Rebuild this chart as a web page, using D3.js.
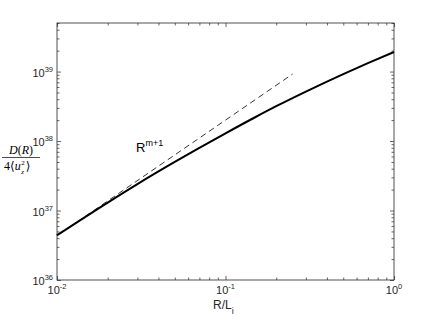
<!DOCTYPE html>
<html><head><meta charset="utf-8">
<script src="https://cdn.jsdelivr.net/npm/d3@7"></script>
<style>
body{margin:0;background:#fff;}
svg{display:block;font-family:"Liberation Sans",Arial,sans-serif;}
</style></head>
<body><svg id="c" width="436" height="321"></svg>
<script>
// data
const solidX = [0.01, 0.02, 0.03, 0.05, 0.07, 0.1, 0.15, 0.2, 0.3, 0.5, 0.7, 1.0];
const solidY = [4.4e36, 1.3e37, 2.4e37, 5.0e37, 7.95e37, 1.29e38, 2.2e38, 3.17e38, 5.15e38, 9.2e38, 1.32e39, 1.91e39];
const dashX = [0.0105, 0.25];
const dashY = [4.7e36, 9.2e38];
const xMajor = [0.01, 0.1, 1];
const xMajorExp = ["-2", "-1", "0"];
const yMajor = [1e36, 1e37, 1e38, 1e39];
const yMajorExp = ["36", "37", "38", "39"];

const svg = d3.select("#c");
const L = 57, R = 394, T = 23, B = 280;
const x = d3.scaleLog().domain([0.01, 1]).range([L, R]);
const y = d3.scaleLog().domain([1e36, 5e39]).range([B, T]);

const xMinor = [];
[0.01, 0.1].forEach(d => { for (let k = 2; k <= 9; k++) xMinor.push(d * k); });
const yMinor = [];
[1e36, 1e37, 1e38, 1e39].forEach(d => { for (let k = 2; k <= 9; k++) { const v = d * k; if (v <= 5e39) yMinor.push(v); } });

const axColor = "#262626";
function styleAxis(g) {
  g.select(".domain").remove();
  g.selectAll("line").attr("stroke", axColor).attr("stroke-width", 0.7);
  g.selectAll("text").remove();
}
const g = svg.append("g");
g.append("g").attr("transform", `translate(0,${B})`).call(d3.axisBottom(x).tickValues(xMajor).tickSize(-4)).call(styleAxis);
g.append("g").attr("transform", `translate(0,${B})`).call(d3.axisBottom(x).tickValues(xMinor).tickSize(-2.5)).call(styleAxis);
g.append("g").attr("transform", `translate(0,${T})`).call(d3.axisTop(x).tickValues(xMajor).tickSize(-4)).call(styleAxis);
g.append("g").attr("transform", `translate(0,${T})`).call(d3.axisTop(x).tickValues(xMinor).tickSize(-2.5)).call(styleAxis);
g.append("g").attr("transform", `translate(${L},0)`).call(d3.axisLeft(y).tickValues(yMajor).tickSize(-4)).call(styleAxis);
g.append("g").attr("transform", `translate(${L},0)`).call(d3.axisLeft(y).tickValues(yMinor).tickSize(-2.5)).call(styleAxis);
g.append("g").attr("transform", `translate(${R},0)`).call(d3.axisRight(y).tickValues(yMajor).tickSize(-4)).call(styleAxis);
g.append("g").attr("transform", `translate(${R},0)`).call(d3.axisRight(y).tickValues(yMinor).tickSize(-2.5)).call(styleAxis);

svg.append("rect").attr("x", L).attr("y", T).attr("width", R - L).attr("height", B - T)
  .attr("fill", "none").attr("stroke", axColor).attr("stroke-width", 0.8);

// tick labels
xMajor.forEach((v, i) => {
  const t = svg.append("text").attr("x", x(v)).attr("y", B + 14).attr("text-anchor", "middle")
    .attr("font-size", 11).attr("fill", axColor);
  t.append("tspan").text("10");
  t.append("tspan").attr("dy", -5).attr("font-size", 7.5).text(xMajorExp[i]);
});
yMajor.forEach((v, i) => {
  const t = svg.append("text").attr("x", L - 4).attr("y", y(v) + 5).attr("text-anchor", "end")
    .attr("font-size", 11).attr("fill", axColor);
  t.append("tspan").text("10");
  t.append("tspan").attr("dy", -5).attr("font-size", 7.5).text(yMajorExp[i]);
});

// lines
const line = d3.line().x(d => x(d[0])).y(d => y(d[1])).curve(d3.curveMonotoneX);
svg.append("path").datum(dashX.map((d, i) => [d, dashY[i]])).attr("d", line)
  .attr("fill", "none").attr("stroke", "#000").attr("stroke-width", 0.8).attr("stroke-dasharray", "6,4");
svg.append("path").datum(solidX.map((d, i) => [d, solidY[i]])).attr("d", line)
  .attr("fill", "none").attr("stroke", "#000").attr("stroke-width", 2);

// annotation
const ann = svg.append("text").attr("x", 136).attr("y", 152).attr("font-size", 13).attr("fill", "#000");
ann.append("tspan").text("R");
ann.append("tspan").attr("dy", -6).attr("font-size", 9).text("m+1");

// x label
const xl = svg.append("text").attr("x", 213).attr("y", 309).attr("font-size", 12).attr("fill", axColor);
xl.append("tspan").text("R/L");
xl.append("tspan").attr("dy", 5).attr("font-size", 9).text("i");

// y label (fraction)
const serif = '"Liberation Serif","DejaVu Serif",serif';
const num = svg.append("text").attr("x", 21).attr("y", 154).attr("text-anchor", "middle")
  .attr("font-family", serif).attr("font-size", 12).attr("fill", "#000");
num.append("tspan").attr("font-style", "italic").text("D");
num.append("tspan").text("(");
num.append("tspan").attr("font-style", "italic").text("R");
num.append("tspan").text(")");
svg.append("line").attr("x1", 2).attr("x2", 40).attr("y1", 157.5).attr("y2", 157.5).attr("stroke", "#000").attr("stroke-width", 0.7);
const den = svg.append("text").attr("x", 4).attr("y", 170)
  .attr("font-family", serif).attr("font-size", 12).attr("fill", "#000");
den.append("tspan").text("4\u27E8");
den.append("tspan").attr("font-style", "italic").text("u");
const dw = den.node().getComputedTextLength();
svg.append("text").attr("x", 4 + dw + 0.5).attr("y", 164.5)
  .attr("font-family", serif).attr("font-size", 7).attr("fill", "#000").text("2");
svg.append("text").attr("x", 4 + dw + 0.5).attr("y", 173.5)
  .attr("font-family", serif).attr("font-size", 7).attr("font-style", "italic").attr("fill", "#000").text("z");
svg.append("text").attr("x", 4 + dw + 5).attr("y", 170)
  .attr("font-family", serif).attr("font-size", 12).attr("fill", "#000").text("\u27E9");
</script></body></html>
